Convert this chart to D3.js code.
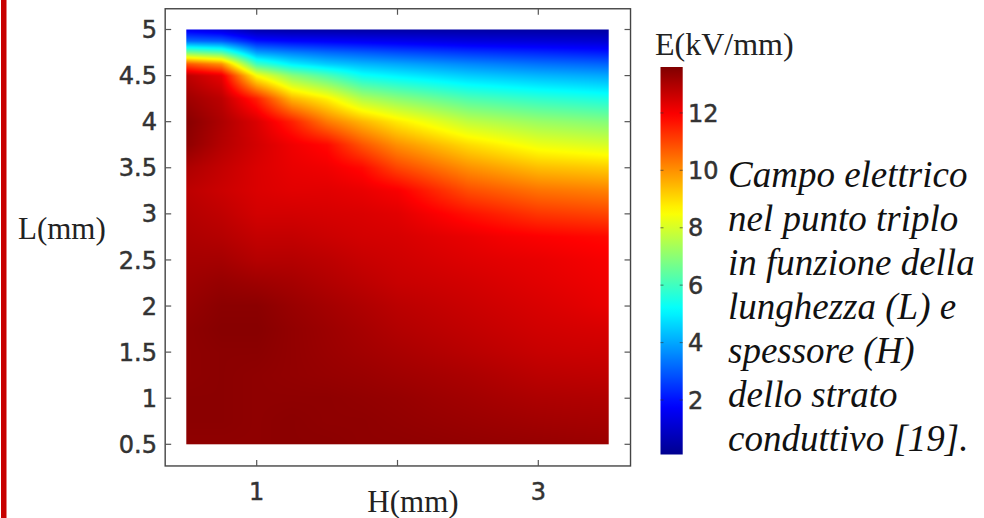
<!DOCTYPE html>
<html>
<head>
<meta charset="utf-8">
<script src="https://cdn.jsdelivr.net/npm/d3@7/dist/d3.min.js"></script>
<style>
  html, body { margin: 0; padding: 0; background: #fff; }
  svg { display: block; }
</style>
</head>
<body>
<svg id="chart" width="984" height="518"></svg>
<script>
// ---------------- DATA ----------------
const Hvals = [0.5, 0.75, 1.0, 1.25, 1.5, 1.75, 2.0, 2.25, 2.5, 2.75, 3.0, 3.25, 3.5];
const Lvals = [0.5, 0.75, 1.0, 1.25, 1.5, 1.75, 2.0, 2.25, 2.5, 2.75, 3.0, 3.25, 3.5, 3.75, 4.0, 4.25, 4.5, 4.625, 4.75, 4.875, 5.0];
// E field (kV/mm), one row per L value (ascending), one column per H value
const Efield = [
  [13.4, 13.4, 13.4, 13.45, 13.45, 13.4, 13.4, 13.38, 13.35, 13.32, 13.3, 13.27, 13.25],
  [13.45, 13.45, 13.4, 13.45, 13.4, 13.4, 13.35, 13.3, 13.25, 13.2, 13.15, 13.12, 13.1],
  [13.45, 13.45, 13.4, 13.4, 13.4, 13.35, 13.3, 13.22, 13.15, 13.07, 13.0, 12.97, 12.95],
  [13.4, 13.45, 13.4, 13.35, 13.3, 13.25, 13.17, 13.1, 13.02, 12.92, 12.82, 12.78, 12.75],
  [13.4, 13.45, 13.45, 13.35, 13.25, 13.15, 13.05, 12.95, 12.85, 12.75, 12.65, 12.6, 12.58],
  [13.4, 13.5, 13.5, 13.35, 13.22, 13.08, 12.93, 12.83, 12.73, 12.63, 12.53, 12.47, 12.42],
  [13.3, 13.45, 13.45, 13.27, 13.12, 12.97, 12.82, 12.72, 12.62, 12.52, 12.42, 12.32, 12.2],
  [13.2, 13.3, 13.2, 13.1, 12.95, 12.8, 12.65, 12.58, 12.5, 12.4, 12.3, 12.2, 12.1],
  [13.1, 13.1, 12.9, 12.9, 12.8, 12.65, 12.55, 12.45, 12.35, 12.27, 12.2, 12.1, 12.0],
  [13.0, 12.9, 12.7, 12.7, 12.6, 12.5, 12.45, 12.32, 12.2, 12.05, 11.95, 11.87, 11.8],
  [12.9, 12.75, 12.5, 12.5, 12.45, 12.4, 12.3, 12.0, 11.7, 11.45, 11.2, 11.1, 11.0],
  [12.8, 12.6, 12.4, 12.3, 12.3, 12.2, 12.0, 11.45, 10.9, 10.65, 10.4, 10.3, 10.2],
  [13.0, 12.7, 12.4, 12.2, 12.1, 11.8, 11.0, 10.5, 10.0, 9.7, 9.4, 9.3, 9.2],
  [13.4, 12.9, 12.5, 12.1, 11.8, 10.8, 10.0, 9.5, 9.0, 8.65, 8.3, 8.15, 8.0],
  [13.5, 13.0, 12.4, 11.5, 10.3, 9.5, 8.8, 8.25, 7.7, 7.45, 7.2, 7.05, 6.9],
  [13.2, 12.8, 11.5, 9.5, 8.7, 7.5, 7.0, 6.6, 6.2, 6.0, 5.8, 5.65, 5.5],
  [12.8, 12.2, 8.5, 7.0, 6.2, 5.3, 5.0, 4.75, 4.5, 4.35, 4.2, 4.1, 4.0],
  [10.8, 10.0, 6.0, 5.0, 4.5, 4.2, 4.0, 3.8, 3.6, 3.45, 3.3, 3.2, 3.1],
  [6.8, 6.3, 3.9, 3.5, 3.2, 3.0, 2.8, 2.65, 2.5, 2.4, 2.3, 2.2, 2.1],
  [3.2, 3.0, 2.0, 1.8, 1.7, 1.6, 1.5, 1.4, 1.3, 1.25, 1.2, 1.15, 1.1],
  [1.5, 1.2, 0.5, 0.4, 0.4, 0.4, 0.4, 0.4, 0.4, 0.4, 0.4, 0.4, 0.4]
];
const xTicks = [1, 2, 3];
const xTickLabels = ["1", "", "3"];
const yTicks = [0.5, 1, 1.5, 2, 2.5, 3, 3.5, 4, 4.5, 5];
const yTickLabels = ["0.5", "1", "1.5", "2", "2.5", "3", "3.5", "4", "4.5", "5"];
const cTicks = [2, 4, 6, 8, 10, 12];
const cRange = [0.1, 13.6];
const captionLines = ["Campo elettrico", "nel punto triplo", "in funzione della", "lunghezza (L) e", "spessore (H)", "dello strato", "conduttivo [19]."];

// ---------------- SCALES ----------------
const svg = d3.select("#chart");
const x = d3.scaleLinear().domain([0.5, 3.5]).range([186.3, 608.7]);
const y = d3.scaleLinear().domain([0.5, 5]).range([444.3, 29.5]);
const frameH = [0.35, 3.655];
const frameL = [0.265, 5.225];

const jetStops = [0, 0.125, 0.375, 0.625, 0.875, 1];
const jetColors = ["#00008f", "#0000ff", "#00ffff", "#ffff00", "#ff0000", "#800000"];
const color = d3.scaleLinear()
  .domain(jetStops.map(t => cRange[0] + t * (cRange[1] - cRange[0])))
  .range(jetColors)
  .interpolate(d3.interpolateRgb)
  .clamp(true);

// left red border
svg.append("rect").attr("x", 1).attr("y", 0).attr("width", 5.5).attr("height", 518).attr("fill", "#c80000");

// ---------------- HEATMAP ----------------
function sample(H, L) {
  let j = d3.bisectRight(Hvals, H) - 1; j = Math.max(0, Math.min(Hvals.length - 2, j));
  let i = d3.bisectRight(Lvals, L) - 1; i = Math.max(0, Math.min(Lvals.length - 2, i));
  const tx = Math.max(0, Math.min(1, (H - Hvals[j]) / (Hvals[j + 1] - Hvals[j])));
  const ty = Math.max(0, Math.min(1, (L - Lvals[i]) / (Lvals[i + 1] - Lvals[i])));
  const a = Efield[i][j], b = Efield[i][j + 1], c = Efield[i + 1][j], d = Efield[i + 1][j + 1];
  return (a * (1 - tx) + b * tx) * (1 - ty) + (c * (1 - tx) + d * tx) * ty;
}
const hx0 = x(Hvals[0]), hx1 = x(Hvals[Hvals.length - 1]);
const hy0 = y(Lvals[Lvals.length - 1]), hy1 = y(Lvals[0]);
const cw = Math.round(hx1 - hx0), ch = Math.round(hy1 - hy0);
const canvas = document.createElement("canvas");
canvas.width = cw; canvas.height = ch;
const ctx = canvas.getContext("2d");
const img = ctx.createImageData(cw, ch);
for (let py = 0; py < ch; py++) {
  const L = y.invert(hy0 + (py + 0.5) * (hy1 - hy0) / ch);
  for (let px = 0; px < cw; px++) {
    const H = x.invert(hx0 + (px + 0.5) * (hx1 - hx0) / cw);
    const c = d3.rgb(color(sample(H, L)));
    const k = (py * cw + px) * 4;
    img.data[k] = c.r; img.data[k + 1] = c.g; img.data[k + 2] = c.b; img.data[k + 3] = 255;
  }
}
ctx.putImageData(img, 0, 0);
svg.append("image")
  .attr("href", canvas.toDataURL())
  .attr("x", hx0).attr("y", hy0)
  .attr("width", hx1 - hx0).attr("height", hy1 - hy0)
  .attr("preserveAspectRatio", "none");

// ---------------- FRAME & TICKS ----------------
const fx0 = x(frameH[0]), fx1 = x(frameH[1]), fy0 = y(frameL[1]), fy1 = y(frameL[0]);
svg.append("rect").attr("x", fx0).attr("y", fy0).attr("width", fx1 - fx0).attr("height", fy1 - fy0)
  .attr("fill", "none").attr("stroke", "#444").attr("stroke-width", 1.4);
const tl = 6;
const tg = svg.append("g").attr("stroke", "#555").attr("stroke-width", 1.2);
xTicks.forEach(t => {
  tg.append("line").attr("x1", x(t)).attr("x2", x(t)).attr("y1", fy1).attr("y2", fy1 - tl);
  tg.append("line").attr("x1", x(t)).attr("x2", x(t)).attr("y1", fy0).attr("y2", fy0 + tl);
});
yTicks.forEach(t => {
  tg.append("line").attr("x1", fx0).attr("x2", fx0 + tl).attr("y1", y(t)).attr("y2", y(t));
  tg.append("line").attr("x1", fx1).attr("x2", fx1 - tl).attr("y1", y(t)).attr("y2", y(t));
});

const tickFont = "'DejaVu Sans', sans-serif";
svg.append("g").selectAll("text").data(yTicks).join("text")
  .attr("x", 157).attr("y", d => y(d)).attr("dy", "0.36em")
  .attr("text-anchor", "end").attr("font-family", tickFont).attr("font-size", 24)
  .attr("fill", "#333").attr("stroke", "#333").attr("stroke-width", 0.5)
  .text((d, i) => yTickLabels[i]);
svg.append("g").selectAll("text").data(xTicks).join("text")
  .attr("x", d => x(d)).attr("y", 500)
  .attr("text-anchor", "middle").attr("font-family", tickFont).attr("font-size", 24)
  .attr("fill", "#333").attr("stroke", "#333").attr("stroke-width", 0.5)
  .text((d, i) => xTickLabels[i]);

// axis labels
const serif = "'Liberation Serif', 'Times New Roman', serif";
svg.append("text").attr("x", 18).attr("y", 239).attr("font-family", serif).attr("font-size", 31)
  .attr("fill", "#222").text("L(mm)");
svg.append("text").attr("x", 413).attr("y", 512).attr("text-anchor", "middle").attr("font-family", serif)
  .attr("font-size", 31).attr("fill", "#222").text("H(mm)");

// ---------------- COLORBAR ----------------
const cy = d3.scaleLinear().domain(cRange).range([454.5, 67]);
const cbx = 660.5, cbw = 22.2;
const defs = svg.append("defs");
const grad = defs.append("linearGradient").attr("id", "cbgrad")
  .attr("x1", 0).attr("y1", 1).attr("x2", 0).attr("y2", 0);
d3.range(0, 1.0001, 0.02).forEach(t => {
  const v = cRange[0] + t * (cRange[1] - cRange[0]);
  grad.append("stop").attr("offset", t).attr("stop-color", color(v));
});
svg.append("rect").attr("x", cbx).attr("y", cy(cRange[1])).attr("width", cbw)
  .attr("height", cy(cRange[0]) - cy(cRange[1])).attr("fill", "url(#cbgrad)");
const cg = svg.append("g").attr("stroke", "#333").attr("stroke-opacity", 0.55).attr("stroke-width", 1.2);
cTicks.forEach(t => {
  cg.append("line").attr("x1", cbx).attr("x2", cbx + 3).attr("y1", cy(t)).attr("y2", cy(t));
  cg.append("line").attr("x1", cbx + cbw).attr("x2", cbx + cbw - 3).attr("y1", cy(t)).attr("y2", cy(t));
});
svg.append("g").selectAll("text").data(cTicks).join("text")
  .attr("x", 688).attr("y", d => cy(d)).attr("dy", "0.36em")
  .attr("font-family", tickFont).attr("font-size", 24).attr("fill", "#333")
  .attr("stroke", "#333").attr("stroke-width", 0.5)
  .text(d => String(d));
svg.append("text").attr("x", 655).attr("y", 55).attr("font-family", serif).attr("font-size", 32)
  .attr("fill", "#222").text("E(kV/mm)");

// ---------------- CAPTION ----------------
svg.append("g").selectAll("text").data(captionLines).join("text")
  .attr("x", 728).attr("y", (d, i) => 187 + i * 44)
  .attr("font-family", serif).attr("font-style", "italic").attr("font-size", 37)
  .attr("fill", "#111").text(d => d);
</script>
</body>
</html>
